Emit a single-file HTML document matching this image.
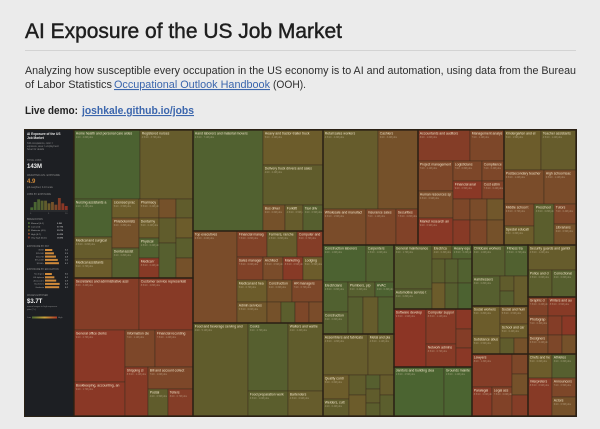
<!DOCTYPE html>
<html><head><meta charset="utf-8">
<style>
html,body{margin:0;padding:0;background:#ebebeb;}
svg{display:block;font-family:"Liberation Sans",sans-serif;}
</style></head>
<body>
<svg id="page" width="600" height="429" viewBox="0 0 600 429">
<rect x="0" y="0" width="600" height="429" fill="#ebebeb"/>
<text x="25" y="38" font-size="21" fill="#1e1e1e" stroke="#1e1e1e" stroke-width="0.45" textLength="317" lengthAdjust="spacingAndGlyphs">AI Exposure of the US Job Market</text>
<rect x="25" y="50" width="551" height="1" fill="#d3d3d3"/>
<text x="25" y="74" font-size="11" fill="#2e2e2e" textLength="551" lengthAdjust="spacingAndGlyphs">Analyzing how susceptible every occupation in the US economy is to AI and automation, using data from the Bureau</text>
<text x="25" y="88" font-size="11" fill="#2e2e2e" textLength="87" lengthAdjust="spacingAndGlyphs">of Labor Statistics</text>
<text x="114" y="88" font-size="11" fill="#3b66ad" text-decoration="underline" textLength="156" lengthAdjust="spacingAndGlyphs">Occupational Outlook Handbook</text>
<text x="273" y="88" font-size="11" fill="#2e2e2e" textLength="33" lengthAdjust="spacingAndGlyphs">(OOH).</text>
<text x="25" y="114" font-size="11" font-weight="bold" fill="#222" textLength="53" lengthAdjust="spacingAndGlyphs">Live demo:</text>
<text x="82" y="114" font-size="11" font-weight="bold" fill="#3b66ad" text-decoration="underline" textLength="112" lengthAdjust="spacingAndGlyphs">joshkale.github.io/jobs</text>

<g id="treemap-frame">
<rect x="24" y="129" width="553" height="288" fill="#2a2216"/>
<g id="sidebar">
<rect x="25" y="130" width="48" height="286" fill="#1d1f23"/>
<text x="27" y="135" font-size="3.2" font-weight="bold" fill="#e6e6e6">AI Exposure of the US</text>
<text x="27" y="139" font-size="3.2" font-weight="bold" fill="#e6e6e6">Job Market</text>
<text x="27" y="144" font-size="2.4" fill="#8a8a8a">342 occupations, color =</text>
<text x="27" y="147" font-size="2.4" fill="#8a8a8a">exposure, area = employment</text>
<text x="27" y="150" font-size="2.4" fill="#8a8a8a">hover for details</text>
<text x="27" y="161" font-size="2.4" fill="#8a8a8a">TOTAL JOBS</text>
<text x="27" y="168" font-size="6" font-weight="bold" fill="#f0f0f0">143M</text>
<text x="27" y="176" font-size="2.4" fill="#8a8a8a">WEIGHTED AVG. EXPOSURE</text>
<text x="27" y="183" font-size="6" font-weight="bold" fill="#d08a3a">4.9</text>
<text x="27" y="188" font-size="2.4" fill="#8a8a8a">job-weighted, 0-10 scale</text>
<text x="27" y="195" font-size="2.4" fill="#8a8a8a">JOBS BY EXPOSURE</text>
<g id="hist"></g>
<line x1="30" y1="211" x2="68" y2="211" stroke="#555" stroke-width="0.4"/>
<text x="30" y="214" font-size="2.2" fill="#777">0</text>
<text x="48" y="214" font-size="2.2" fill="#777">5</text>
<text x="65" y="214" font-size="2.2" fill="#777">10</text>
<text x="27" y="220" font-size="2.4" fill="#8a8a8a">BREAKDOWN</text>
<g id="breakdown"></g>
<text x="27" y="247" font-size="2.4" fill="#8a8a8a">EXPOSURE BY PAY</text>
<g id="pay"></g>
<text x="27" y="270" font-size="2.4" fill="#8a8a8a">EXPOSURE BY EDUCATION</text>
<g id="edu"></g>
<text x="27" y="296" font-size="2.4" fill="#8a8a8a">WAGES EXPOSED</text>
<text x="27" y="303" font-size="6" font-weight="bold" fill="#f0f0f0">$3.7T</text>
<text x="27" y="307" font-size="2.2" fill="#8a8a8a">annual wages in high exposure</text>
<text x="27" y="310" font-size="2.2" fill="#8a8a8a">jobs (7+)</text>
<defs><linearGradient id="grad" x1="0" x2="1"><stop offset="0" stop-color="#4c6a32"/><stop offset="0.5" stop-color="#c9a23a"/><stop offset="1" stop-color="#b03a26"/></linearGradient></defs>
<text x="27" y="318" font-size="2.2" fill="#888">Low</text>
<rect x="32" y="316.5" width="25" height="2" fill="url(#grad)"/>
<text x="58" y="318" font-size="2.2" fill="#888">High</text>
</g>
<g id="tm"></g>
</g>
</svg>
<script>
function L(n,v,e){return {leaf:true,n:n,v:v,e:e};}
function R(){return {dir:'r',kids:[].slice.call(arguments)};}
function C(){return {dir:'c',kids:[].slice.call(arguments)};}
function G(name,node){node.g=name;return node;}

// Employment (area units) and AI exposure (0-10) per occupation
const histValues=[2,6,8,7,7,5,6,4,9,5,3];
const breakdownLabels=["Minimal (0-1)","Low (2-3)","Moderate (4-5)","High (6-7)","Very high (8-10)"];
const breakdownValues=["6.9M","37.7M","39.7M","40.3M","18.3M"];
const payLabels=["<$35K","$35-50K","$50-75K","$75-100K","$100K+"];
const payValues=[3.2,3.9,4.8,5.6,6.1];
const eduLabels=["No degree","HS diploma","Associate's","Bachelor's","Graduate"];
const eduValues=[3.0,4.1,4.9,6.4,6.2];

const TREE=R(
 C(
  G('healthcare',C(
   R(L("Home health and personal care aides",4554,2),L("Registered nurses",3657,4.5)),
   R(C(L("Nursing assistants and orderlies",1444,2),L("Medical and surgical assistants",836,4.5),L("Medical assistants",722,5)),
     C(L("Licensed practical nurses",513,5),L("Phlebotomists",810,6),L("Dental assistants",810,3)),
     C(L("Pharmacy techs",380,5.5),L("Dental hygienists",400,5),L("Physical therapists",400,2.5),L("Medical records",400,8.5)),
     C(L("Physicians",323,6),L("EMTs",425,4),L("Veterinary techs",595,3)),
     C(L("Respiratory",323,4),L("Optometrists",340,5),L("Massage",340,3.5),L("Radiologic",340,6))))),
  G('office',C(
   R(L("Secretaries and administrative assistants",3380,8),L("Customer service representatives",2808,8.5)),
   R(C(L("General office clerks",2652,9),L("Bookkeeping, accounting, and audit",1734,9)),
     C(R(L("Information clerks",1110,7),L("Financial recording clerks",1406,7.5)),
       R(L("Shipping clerks",1127,8.5),C(L("Bill and account collectors",990,7),R(L("Postal",540,4),L("Tellers",675,8))))))))
 ),
 C(
  G('transport',R(L("Hand laborers and material movers",7070,2.5),
   C(L("Heavy and tractor-trailer truck drivers",2100,5),L("Delivery truck drivers and sales",2400,4),
     R(L("Bus drivers",572,6),L("Forklift",468,4.5),L("Taxi drivers",520,3))))),
  G('management',R(L("Top executives",4048,6.5),
   C(R(L("Financial managers",780,7.5),L("Farmers, ranchers, and",780,4.5),L("Computer and IS managers",676,8)),
     R(L("Sales managers",598,7.5),L("Architectural mgrs",460,6.5),L("Marketing managers",460,8.5),L("Lodging",460,5)),
     R(L("Medical and health services",660,5),L("Construction managers",550,6),L("HR managers",682,7)),
     R(L("Admin services",630,5.5),L("Food svc",294,6),L("Property",294,3.5),L("Training",294,7),L("Industrial",294,6.5))))),
  G('food',R(L("Food and beverage serving and related",5115,4),
   C(L("Cooks",2720,3),L("Food preparation workers",1000,3.5)),
   C(L("Waiters and waitresses",2380,4),L("Bartenders",875,4.5))))
 ),
 C(
  R(
   G('sales',C(R(L("Retail sales workers",4345,4.5),L("Cashiers",3160,6)),
     R(L("Wholesale and manufacturing",1548,6.5),L("Insurance sales agents",1080,7),L("Securities sales",792,7.5)))),
   G('business',C(R(L("Accountants and auditors",1612,8),L("Management analysts",1054,7)),
     R(C(L("Project management specialists",1050,7),L("Human resources specialists",945,6.5),L("Market research analysts",945,9)),
       C(R(L("Logisticians",580,7),L("Compliance officers",440,7)),R(L("Financial analysts",522,9),L("Cost estimators",396,7.5)),
         R(L("Claims",357,7),L("Appraisers",357,6.5),L("Buyers",357,5.5)),R(L("Budget",425,8.5),L("Tax",425,7),L("Training",425,6)))))),
   G('education',C(R(L("Kindergarten and elementary",1480,5),L("Teacher assistants",1400,4.5)),
     R(L("Postsecondary teachers",1360,6.5),L("High school teachers",1088,6.5)),
     R(C(L("Middle school teachers",660,6.5),L("Special education teachers",570,5)),L("Preschool teachers",820,3.5),C(L("Tutors",440,7),L("Librarians",462,6)))))
  ),
  R(
   C(G('construction',C(R(L("Construction laborers and helpers",1591,2),L("Carpenters",1036,2.5)),
       R(C(L("Electricians",750,2.5),L("Construction equipment",550,3)),
         C(R(L("Plumbers, pipefitters",405,3),L("HVAC",285,2)),R(L("Roofers",555,3),L("Painters",555,4.5),L("Masons",592,2.5)))))),
     G('production',C(R(L("Assemblers and fabricators",1845,4.5),L("Metal and plastic machine",1066,4.5)),
       R(C(L("Quality control inspectors",624,5),L("Welders, cutters",442,4)),C(L("Packaging",340,4),L("Printing",357,5)),
         C(L("Bakers",196,3),L("Machinists",196,4),L("Butchers",182,3.5)),C(L("Painting",280,4.5),L("Woodworkers",294,3.5)))))),
   C(G('installation',R(C(L("General maintenance and repair",1672,3),L("Automotive service technicians",760,3)),
       C(R(L("Electrical installers",280,4),L("Heavy equipment",280,2.5)),R(L("Line installers",312,3.5),L("Aircraft",312,3),L("Diesel",336,2.5)),
         R(L("Telecom",338,5),L("Small engine",338,3),L("Millwrights",364,2))))),
     G('computer',R(L("Software developers",1856,9.5),C(L("Computer support specialists",1050,8.5),L("Network admins",690,8.5)),
       C(L("Programmers",320,9),L("Web developers",304,8),L("Database admins",304,9)))),
     G('cleaning',R(L("Janitors and building cleaners",2450,1.5),L("Grounds maintenance",1372,1.5)))),
   C(G('personal',C(R(L("Childcare workers",1023,3),L("Fitness trainers",713,2.5)),
       R(L("Hairdressers",840,3),C(L("Barbers",210,4),L("Skincare",210,3)),L("Recreation",420,4.5)))),
     G('social',R(C(L("Social workers",840,5),L("Substance abuse counselors",504,5)),
       C(L("Social and human service",504,5.5),L("School and career counselors",392,5),R(L("Clergy",224,4),L("Health educators",224,6))))),
     G('legal',R(C(L("Lawyers",1320,8),R(L("Paralegals",580,8.5),L("Legal assistants",580,7.5))),
       C(L("Judges",320,7),L("Arbitrators",336,6),L("Court reporters",336,8))))),
   C(G('protective',C(L("Security guards and gambling surveillance",1200,4.5),R(L("Police and detectives",648,3.5),L("Correctional officers",648,3)))),
     G('arts',R(C(L("Graphic designers",380,7.5),L("Photographers",380,7),L("Designers",380,6.5)),
       C(L("Writers and authors",532,8.5),R(L("Editors",266,8),L("Translators",266,9)),R(L("Producers",266,7),L("Musicians",266,6))))),
     G('other',C(R(L("Chefs and head cooks",576,5),L("Athletes",576,3)),
       R(L("Interpreters and translators",912,8.5),C(L("Announcers",456,7),L("Actors",456,6))))))
  )
 )
);

const svgNS="http://www.w3.org/2000/svg";
const stops=[[0,[72,104,50]],[2,[76,98,49]],[4,[96,92,44]],[5,[108,92,43]],[6.5,[122,76,42]],[8,[132,61,39]],[10,[143,50,36]]];
function color(e){
  for(let i=0;i<stops.length-1;i++){
    const a=stops[i],b=stops[i+1];
    if(e<=b[0]){const t=(e-a[0])/(b[0]-a[0]);
      return 'rgb('+a[1].map((c,k)=>Math.round(c+(b[1][k]-c)*t)).join(',')+')';}
  }
  return 'rgb(143,50,36)';
}
function total(n){return n.leaf?n.v:n.kids.reduce((s,k)=>s+total(k),0);}
const tm=document.getElementById('tm');
const groupRects=[];
function mk(tag,attrs){const el=document.createElementNS(svgNS,tag);for(const k in attrs)el.setAttribute(k,attrs[k]);return el;}
function lay(n,x,y,w,h){
  if(n.leaf){
    const r=mk('rect',{x:x,y:y,width:w,height:h,fill:color(n.e),stroke:'#3a2c1c','stroke-width':0.5});
    
    
    tm.appendChild(r);
    if(w>=18&&h>=9){
      const maxc=Math.floor((w-3)/1.75);
      const s=n.n.length>maxc?n.n.slice(0,maxc):n.n;
      const t=mk('text',{x:x+1.8,y:y+4.6,'font-size':3.4,fill:'#f0e4c8'});
      
      
      t.textContent=s;tm.appendChild(t);
      const t2=mk('text',{x:x+1.8,y:y+8,'font-size':2.4,fill:'#d8ccb0','fill-opacity':0.55});
      
      
      t2.textContent=n.e+'/10 · '+(n.v/1000).toFixed(1)+'M jobs';tm.appendChild(t2);
    }
    return;
  }
  const tot=total(n);let off=0;
  n.kids.forEach(k=>{
    const s=total(k)/tot;
    if(n.dir==='r')lay(k,x+off*w,y,s*w,h);else lay(k,x,y+off*h,w,s*h);
    off+=s;
  });
  if(n.g)groupRects.push([n.g,x,y,w,h]);
}
lay(TREE,74,130,502,286);
groupRects.forEach(g=>{
  const r=mk('rect',{x:g[1],y:g[2],width:g[3],height:g[4],fill:'none',stroke:'#2a2014','stroke-width':1.3});
  
  
  tm.appendChild(r);
});

// sidebar histogram
const hist=document.getElementById('hist');
const hx0=30,hw=38/histValues.length,hy0=210,hmax=Math.max(...histValues);
histValues.forEach((v,i)=>{
  const bh=v/hmax*12;
  const r=mk('rect',{x:hx0+i*hw+0.3,y:hy0-bh,width:hw-0.6,height:bh,fill:color(i)});
  
  
  hist.appendChild(r);
});
const bd=document.getElementById('breakdown');
breakdownLabels.forEach((l,i)=>{
  const y=224+i*3.6;
  const sq=mk('rect',{x:28,y:y-1.8,width:1.8,height:1.8,fill:color(i*2.2+0.5)});
  
  
  bd.appendChild(sq);
  const t=mk('text',{x:31,y:y,'font-size':2.2,fill:'#aaa'});
  
  
  t.textContent=l;bd.appendChild(t);
  const t2=mk('text',{x:57,y:y,'font-size':2.2,fill:'#ddd'});
  
  
  t2.textContent=breakdownValues[i];bd.appendChild(t2);
});
function barList(id,labels,vals,y0){
  const g=document.getElementById(id);
  labels.forEach((l,i)=>{
    const y=y0+i*3.3;
    const t=mk('text',{x:44,y:y+1.7,'font-size':2.1,fill:'#999','text-anchor':'end'});
    
    
    t.textContent=l;g.appendChild(t);
    const r=mk('rect',{x:45,y:y,width:vals[i]/7*16,height:2,fill:'#d08a3a'});
    
    
    g.appendChild(r);
    const t2=mk('text',{x:65,y:y+1.7,'font-size':2.1,fill:'#ccc'});
    
    
    t2.textContent=vals[i].toFixed(1);g.appendChild(t2);
  });
}
barList('pay',payLabels,payValues,249);
barList('edu',eduLabels,eduValues,273);
</script>
</body></html>
